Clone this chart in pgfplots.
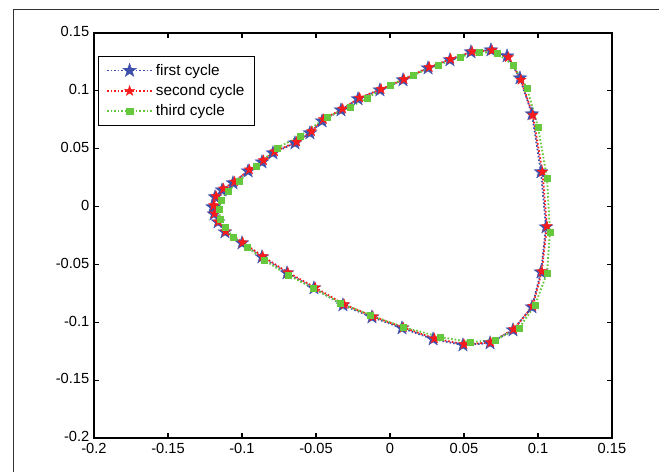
\documentclass[border=0pt]{standalone}
\usepackage{fontspec}
\setmainfont{Liberation Sans}
\usepackage{pgfplots}
\pgfplotsset{compat=1.18}

\definecolor{cycA}{RGB}{62,80,172}
\definecolor{cycB}{RGB}{250,28,28}
\definecolor{cycC}{RGB}{102,200,60}

% filled five-pointed star
\pgfdeclareplotmark{fstar}{%
  \pgfpathmoveto{\pgfpointpolar{90}{\pgfplotmarksize}}%
  \pgfpathlineto{\pgfpointpolar{126}{0.4\pgfplotmarksize}}%
  \pgfpathlineto{\pgfpointpolar{162}{\pgfplotmarksize}}%
  \pgfpathlineto{\pgfpointpolar{198}{0.4\pgfplotmarksize}}%
  \pgfpathlineto{\pgfpointpolar{234}{\pgfplotmarksize}}%
  \pgfpathlineto{\pgfpointpolar{270}{0.4\pgfplotmarksize}}%
  \pgfpathlineto{\pgfpointpolar{306}{\pgfplotmarksize}}%
  \pgfpathlineto{\pgfpointpolar{342}{0.4\pgfplotmarksize}}%
  \pgfpathlineto{\pgfpointpolar{18}{\pgfplotmarksize}}%
  \pgfpathlineto{\pgfpointpolar{54}{0.4\pgfplotmarksize}}%
  \pgfpathclose
  \pgfusepathqfillstroke}

\begin{document}
\begin{tikzpicture}
% page size = 659x472 px at 0.75pt per px
\useasboundingbox (-70.5pt,-25.5pt) rectangle (423.75pt,328.5pt);
\draw[line width=0.7pt, black!80] (-60.75pt,-25.5pt) -- (-60.75pt,321.75pt) -- (423.75pt,321.75pt);

\begin{axis}[
    scale only axis,
    width=388.5pt,
    height=303.75pt,
    at={(0pt,0pt)}, anchor=south west,
    xmin=-0.2, xmax=0.15,
    ymin=-0.2, ymax=0.15,
    xtick={-0.2,-0.15,-0.1,-0.05,0,0.05,0.1,0.15},
    xticklabels={-0.2,-0.15,-0.1,-0.05,0,0.05,0.1,0.15},
    ytick={-0.2,-0.15,-0.1,-0.05,0,0.05,0.1,0.15},
    yticklabels={-0.2,-0.15,-0.1,-0.05,0,0.05,0.1,0.15},
    scaled ticks=false,
    tick align=inside,
    major tick length=3.75pt,
    axis line style={line width=0.9pt},
    every tick/.style={black, line width=0.8pt},
    tick label style={font=\fontsize{11}{13}\selectfont},
    xticklabel style={yshift=-0.5pt},
    yticklabel style={yshift=1pt},
    legend style={at={(0.008,0.943)}, anchor=north west, draw=black,
        line width=0.8pt, fill=white, font=\fontsize{11.5}{13}\selectfont,
        row sep=1.5pt, inner xsep=5.5pt, inner ysep=3.5pt,
        cells={anchor=west}},
    legend image code/.code={\draw[#1, mark repeat=2, mark phase=2]
        plot coordinates {(0pt,0pt) (17pt,0pt) (34pt,0pt)};},
]

% first cycle
\addplot[color=cycA, line width=1.4pt, dash pattern=on 1.2pt off 1.5pt,
    mark=fstar, mark size=5.4pt, mark options={solid, fill=cycA, line width=0.3pt}]
coordinates {
(-0.1196,-0.0004) (-0.1182,0.0083) (-0.1135,0.0143) (-0.1061,0.0204)
(-0.0959,0.0307) (-0.0865,0.0385) (-0.0791,0.0463) (-0.0642,0.0549)
(-0.0541,0.0636) (-0.0459,0.0739) (-0.0331,0.0834) (-0.0216,0.0930)
(-0.0068,0.1007) (0.0088,0.1094) (0.0257,0.1197) (0.0405,0.1267)
(0.0547,0.1336) (0.0682,0.1353) (0.0791,0.1301) (0.0878,0.1111)
(0.0959,0.0800) (0.1020,0.0299) (0.1054,-0.0177) (0.1020,-0.0566)
(0.0959,-0.0868) (0.0831,-0.1067) (0.0676,-0.1179) (0.0493,-0.1197)
(0.0291,-0.1145) (0.0081,-0.1050) (-0.0122,-0.0955) (-0.0318,-0.0851)
(-0.0514,-0.0704) (-0.0696,-0.0574) (-0.0865,-0.0436) (-0.1000,-0.0315)
(-0.1115,-0.0220) (-0.1162,-0.0134) (-0.1189,-0.0064) (-0.1196,-0.0004)
};
\addlegendentry{first cycle}

% second cycle
\addplot[color=cycB, line width=1.4pt, dash pattern=on 1.2pt off 1.5pt,
    mark=fstar, mark size=4pt, mark options={solid, fill=cycB, line width=0.3pt}]
coordinates {
(-0.1190,0.0010) (-0.1175,0.0090) (-0.1125,0.0155) (-0.1050,0.0215)
(-0.0950,0.0320) (-0.0855,0.0400) (-0.0780,0.0475) (-0.0630,0.0560)
(-0.0530,0.0650) (-0.0450,0.0755) (-0.0320,0.0845) (-0.0205,0.0940)
(-0.0060,0.1015) (0.0095,0.1100) (0.0265,0.1205) (0.0410,0.1275)
(0.0555,0.1340) (0.0690,0.1350) (0.0800,0.1290) (0.0885,0.1095)
(0.0965,0.0790) (0.1030,0.0300) (0.1060,-0.0170) (0.1025,-0.0560)
(0.0965,-0.0860) (0.0835,-0.1060) (0.0680,-0.1175) (0.0500,-0.1190)
(0.0300,-0.1140) (0.0090,-0.1045) (-0.0115,-0.0950) (-0.0310,-0.0845)
(-0.0505,-0.0700) (-0.0690,-0.0570) (-0.0860,-0.0430) (-0.0995,-0.0310)
(-0.1110,-0.0215) (-0.1160,-0.0130) (-0.1185,-0.0060) (-0.1190,0.0010)
};
\addlegendentry{second cycle}

% third cycle
\addplot[color=cycC, line width=1.4pt, dash pattern=on 1.2pt off 1.5pt,
    mark=square*, mark size=2.4pt, mark options={solid, fill=cycC, line width=0.2pt}]
coordinates {
(-0.1155,-0.0021) (-0.1142,0.0057) (-0.1095,0.0134) (-0.1020,0.0221)
(-0.0905,0.0350) (-0.0764,0.0506) (-0.0608,0.0610) (-0.0426,0.0774)
(-0.0270,0.0860) (-0.0155,0.0938) (0.0000,0.1051) (0.0155,0.1137)
(0.0324,0.1223) (0.0473,0.1293) (0.0601,0.1336) (0.0723,0.1327)
(0.0831,0.1223) (0.0926,0.1025) (0.1000,0.0688) (0.1061,0.0247)
(0.1081,-0.0220) (0.1061,-0.0574) (0.0980,-0.0851) (0.0872,-0.1050)
(0.0709,-0.1153) (0.0541,-0.1171) (0.0338,-0.1127) (0.0088,-0.1041)
(-0.0135,-0.0937) (-0.0338,-0.0834) (-0.0520,-0.0704) (-0.0689,-0.0592)
(-0.0851,-0.0462) (-0.0966,-0.0350) (-0.1061,-0.0263) (-0.1115,-0.0177)
(-0.1149,-0.0108) (-0.1155,-0.0021)
};
\addlegendentry{third cycle}

\end{axis}
\end{tikzpicture}
\end{document}
